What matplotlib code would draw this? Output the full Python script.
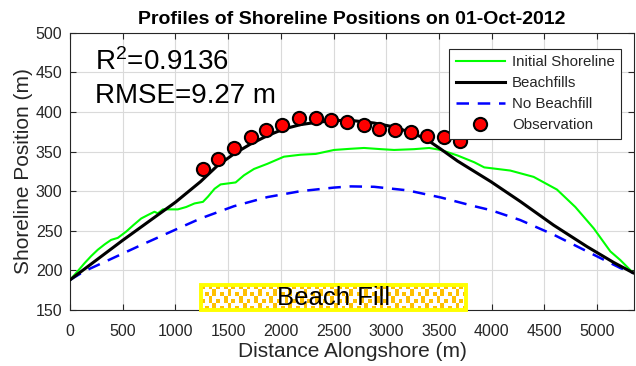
import numpy as np
import matplotlib
matplotlib.use("Agg")
import matplotlib.pyplot as plt
from matplotlib.patches import Rectangle

plt.rcParams['font.family'] = ['Liberation Sans', 'DejaVu Sans']
plt.rcParams['mathtext.fontset'] = 'custom'
plt.rcParams['mathtext.rm'] = 'Liberation Sans'
plt.rcParams['mathtext.it'] = 'Liberation Sans:italic'
plt.rcParams['mathtext.bf'] = 'Liberation Sans:bold'

# Initial shoreline (m)
initial_x = [0, 60, 137, 200, 263, 330, 390, 453, 533, 600, 675, 740, 801, 833,
             880, 950, 1023, 1102, 1181, 1261, 1308, 1371, 1428, 1571, 1650, 1745,
             1872, 2029, 2188, 2331, 2504, 2663, 2789, 2950, 3074, 3264, 3407,
             3518, 3676, 3834, 3929, 3992, 4176, 4398, 4619, 4793, 4968, 5125,
             5220, 5340]
initial_y = [188, 197, 209, 218, 226, 233, 238.5, 241, 249, 257, 265.5, 270, 274,
             272, 277, 277, 277, 280, 284.5, 286.5, 293, 303, 308.5, 311, 320, 328,
             334.5, 343.5, 346, 347, 352, 353.5, 354.5, 353, 352, 353, 354.5, 352,
             345, 336.5, 330, 329, 326, 318, 302, 280, 253, 224, 213, 197]

# Modelled shoreline with beach fills (m)
fill_x = [0, 250, 500, 750, 1000, 1238, 1397, 1555, 1713, 1872, 2029, 2188, 2346,
          2504, 2650, 2884, 3074, 3233, 3375, 3518, 3676, 3834, 3992, 4271, 4588,
          4904, 5157, 5340]
fill_y = [188, 213, 238, 262, 286, 312, 332, 347, 359.5, 370, 378.5, 384, 387,
          389, 389.5, 386, 381, 374, 366, 353, 338, 325, 312, 287, 257, 230,
          210, 197]

# Modelled shoreline without beach fill (m)
nofill_x = [0, 137, 358, 675, 960, 1238, 1555, 1872, 2188, 2504, 2663, 2884, 3201,
            3518, 3834, 3992, 4271, 4588, 4904, 5220, 5340]
nofill_y = [188, 199, 212.5, 232, 249, 265.5, 281, 292.5, 300, 304.5, 306, 305.5,
            301, 292, 281, 276, 263.5, 245, 224, 203, 197]

# Observed shoreline positions (m)
obs_x = [1265, 1400, 1560, 1715, 1860, 2010, 2170, 2330, 2475, 2625, 2785, 2930,
         3085, 3235, 3385, 3545, 3700]
obs_y = [328, 340.5, 355, 368, 377, 384, 392, 392.5, 390, 387.5, 383, 379, 377.5,
         374.5, 370, 368.5, 363]

fill_zone = (1240, 3760)
x_ticks = list(range(0, 5001, 500))
y_ticks = list(range(150, 501, 50))

fig = plt.figure(figsize=(6.36, 3.66), dpi=100)
ax = fig.add_axes([0.1101, 0.153, 0.8868, 0.7577])

gray = '#262626'
ax.plot(initial_x, initial_y, color='#00FF00', lw=1.5, label='Initial Shoreline', zorder=3)
ax.plot(fill_x, fill_y, color='black', lw=2.2, label='Beachfills', zorder=4)
ax.plot(nofill_x, nofill_y, color='#0000FF', lw=1.8, ls=(0, (5, 3.5)),
        label='No Beachfill', zorder=3)
ax.plot(obs_x, obs_y, ls='none', marker='o', ms=9.5, mfc='red', mec='black',
        mew=1.5, label='Observation', zorder=5)

ax.set_xticks(x_ticks)
ax.set_yticks(y_ticks)
ax.grid(True, color='#DADADA', lw=0.8)
ax.set_axisbelow(True)
ax.tick_params(direction='in', length=4, width=0.8, colors=gray, labelsize=11.5,
               top=True, right=True, labelcolor=gray)
ax.tick_params(axis='x', pad=10)
ax.tick_params(axis='y', pad=5.5)
for s in ax.spines.values():
    s.set_color(gray)
    s.set_linewidth(0.8)

ax.set_title('Profiles of Shoreline Positions on 01-Oct-2012', fontsize=14,
             fontweight='bold', pad=6)
ax.set_xlabel('Distance Alongshore (m)', fontsize=15, color=gray, labelpad=2)
ax.set_ylabel('Shoreline Position (m)', fontsize=15, color=gray, labelpad=2)

# Beach fill region: dotted texture inside a yellow frame
box_bottom, box_top = 150, 181
nrow, ncol = 7, 70
ii, jj = np.mgrid[0:nrow, 0:ncol]
dots = (ii % 2 == 0) & ((jj + (ii // 2) % 2) % 2 == 0)
dots |= (ii % 2 == 1) & ((jj + 1 + (ii // 2) % 2) % 4 == 0)
rgb = np.ones((nrow, ncol, 3))
rgb[dots] = np.array([255, 192, 0]) / 255.0
ax.imshow(rgb, extent=(fill_zone[0], fill_zone[1], box_bottom, box_top),
          aspect='auto', interpolation='nearest', zorder=6, clip_on=False)
ax.add_patch(Rectangle((fill_zone[0], box_bottom), fill_zone[1] - fill_zone[0],
                       box_top - box_bottom, fill=False, edgecolor='#FFFF00',
                       lw=2.8, zorder=7, clip_on=False))
ax.text((fill_zone[0] + fill_zone[1]) / 2, (box_bottom + box_top) / 2 - 0.5,
        'Beach Fill', ha='center', va='center', fontsize=18.5, color='black', zorder=8)

ax.set_xlim(0, 5350)
ax.set_ylim(150, 500)

ax.text(0.044, 0.865, 'R$^2$=0.9136', transform=ax.transAxes, fontsize=20,
        ha='left', va='baseline', color='black')
ax.text(0.044, 0.746, 'RMSE=9.27 m', transform=ax.transAxes, fontsize=20,
        ha='left', va='baseline', color='black')

leg = ax.legend(loc='upper right', bbox_to_anchor=(0.977, 0.941), fontsize=10.8,
                handlelength=3.3, labelspacing=0.47, borderaxespad=0,
                fancybox=False, framealpha=1, edgecolor=gray, borderpad=0.42,
                handletextpad=0.45)
leg.get_frame().set_linewidth(0.8)
for t in leg.get_texts():
    t.set_color(gray)

fig.savefig('out.png', dpi=100)
